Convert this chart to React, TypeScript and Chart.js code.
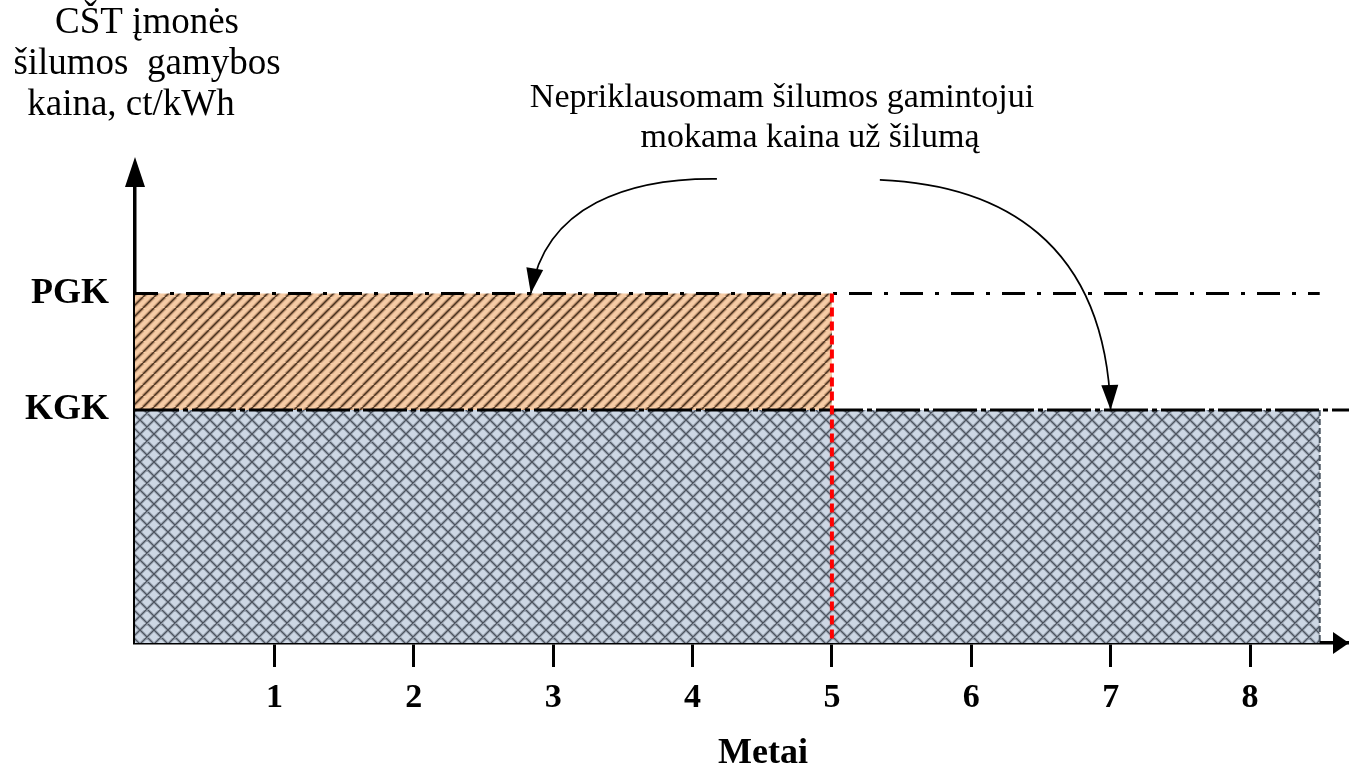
import React, { useEffect, useRef } from 'react';
import { Chart, registerables } from 'chart.js';

Chart.register(...registerables);

// ---- data ----
const yearTicks = [1, 2, 3, 4, 5, 6, 7, 8];
const priceLevels = [2, 3];
const priceLabels = ['KGK', 'PGK'];
const KGK = 2;
const PGK = 3;
const switchYear = 5;
const horizonEnd = 8.5;
const axisEndX = 8.71;
const axisEndY = 3.93;
const yTitleLines = ['CŠT įmonės', 'šilumos  gamybos', 'kaina, ct/kWh'];
const xTitle = 'Metai';
const noteLines = ['Nepriklausomam šilumos gamintojui', 'mokama kaina už šilumą'];
// curved annotation arrows (data units): start, control 1, control 2, tip
const leftArrow = [[4.175, 3.983], [3.551, 3.991], [2.941, 3.76], [2.84, PGK]];
const rightArrow = [[5.344, 3.974], [6.2, 3.931], [6.958, 3.459], [7.0, KGK]];

const SERIF = '"Liberation Serif", "Times New Roman", serif';

function makeHatch(size: number, bg: string, layers: { color: string; width: number }[], cross: boolean) {
  const c = document.createElement('canvas');
  c.width = size;
  c.height = size;
  const g = c.getContext('2d')!;
  g.fillStyle = bg;
  g.fillRect(0, 0, size, size);
  for (const l of layers) {
    g.strokeStyle = l.color;
    g.lineWidth = l.width;
    g.beginPath();
    for (const o of [-size, 0, size]) {
      g.moveTo(o, size);
      g.lineTo(o + size, 0);
      if (cross) {
        g.moveTo(o, 0);
        g.lineTo(o + size, size);
      }
    }
    g.stroke();
  }
  return g.createPattern(c, 'repeat')!;
}

const decorations = {
  id: 'decorations',
  afterDraw(chart: any) {
    const { ctx, chartArea, scales } = chart;
    const xs = scales.x;
    const ys = scales.y;
    ctx.save();
    ctx.fillStyle = '#000';
    ctx.strokeStyle = '#000';

    // y-axis arrow head
    const ax = chartArea.left;
    ctx.beginPath();
    ctx.moveTo(ax, chartArea.top - 28);
    ctx.lineTo(ax - 10, chartArea.top + 2);
    ctx.lineTo(ax + 10, chartArea.top + 2);
    ctx.closePath();
    ctx.fill();

    // x-axis arrow head
    const ay = chartArea.bottom;
    ctx.beginPath();
    ctx.moveTo(chartArea.right, ay);
    ctx.lineTo(chartArea.right - 16, ay - 11);
    ctx.lineTo(chartArea.right - 16, ay + 11);
    ctx.closePath();
    ctx.fill();

    // curved arrows
    const drawCurve = (pts: number[][]) => {
      const p = pts.map(([x, y]) => [xs.getPixelForValue(x), ys.getPixelForValue(y)]);
      ctx.lineWidth = 1.7;
      ctx.beginPath();
      ctx.moveTo(p[0][0], p[0][1]);
      ctx.bezierCurveTo(p[1][0], p[1][1], p[2][0], p[2][1], p[3][0], p[3][1]);
      ctx.stroke();
      const dx = p[3][0] - p[2][0];
      const dy = p[3][1] - p[2][1];
      const len = Math.hypot(dx, dy);
      const ux = dx / len, uy = dy / len;
      const L = 25, W = 8.5;
      const bx = p[3][0] - ux * L, by = p[3][1] - uy * L;
      ctx.beginPath();
      ctx.moveTo(p[3][0], p[3][1]);
      ctx.lineTo(bx - uy * W, by + ux * W);
      ctx.lineTo(bx + uy * W, by - ux * W);
      ctx.closePath();
      ctx.fill();
    };
    drawCurve(leftArrow);
    drawCurve(rightArrow);

    // texts
    ctx.textBaseline = 'alphabetic';
    ctx.textAlign = 'center';
    ctx.font = `34px ${SERIF}`;
    const noteCenters = [782, 810];
    const noteBase = [107, 147];
    noteLines.forEach((t, i) => ctx.fillText(t, noteCenters[i], noteBase[i]));

    ctx.font = `37px ${SERIF}`;
    const tCenters = [147, 147, 131];
    const tBase = [33, 74, 115];
    yTitleLines.forEach((t, i) => ctx.fillText(t, tCenters[i], tBase[i]));

    ctx.font = `bold 36px ${SERIF}`;
    ctx.fillText(xTitle, 763, 763);
    ctx.restore();
  },
};

export default function App() {
  const ref = useRef<HTMLCanvasElement>(null);
  useEffect(() => {
    if (!ref.current) return;
    const orange = makeHatch(
      11,
      '#F6CCA6',
      [
        { color: 'rgba(150,105,70,0.45)', width: 4 },
        { color: 'rgba(60,38,20,0.9)', width: 1.5 },
      ],
      false
    );
    const blue = makeHatch(
      14,
      '#CDD7E4',
      [
        { color: 'rgba(110,120,134,0.5)', width: 3 },
        { color: 'rgba(60,66,76,0.85)', width: 1.2 },
      ],
      true
    );
    const base = { pointRadius: 0, pointHoverRadius: 0, tension: 0, borderCapStyle: 'butt' as const };
    const chart = new Chart(ref.current, {
      type: 'line',
      data: {
        datasets: [
          {
            ...base,
            label: 'switch',
            data: [{ x: switchYear, y: PGK }, { x: switchYear, y: 0 }],
            borderColor: '#FF0000',
            borderWidth: 4,
            borderDash: [9, 5],
            fill: false,
          },
          {
            ...base,
            label: 'PGK',
            data: [{ x: 0, y: PGK }, { x: horizonEnd, y: PGK }],
            borderColor: '#000',
            borderWidth: 3,
            borderDash: [23, 12, 4, 12],
            fill: false,
          },
          {
            ...base,
            label: 'KGK',
            data: [{ x: 0, y: KGK }, { x: axisEndX, y: KGK }],
            borderColor: '#000',
            borderWidth: 3,
            borderDash: [44, 4, 5, 4],
            fill: false,
          },
          {
            ...base,
            label: 'edge',
            data: [{ x: horizonEnd, y: KGK }, { x: horizonEnd, y: 0 }],
            borderColor: '#4a5561',
            borderWidth: 2,
            borderDash: [6, 3],
            fill: false,
          },
          {
            ...base,
            label: 'PGK area',
            data: [{ x: 0, y: PGK }, { x: switchYear, y: PGK }],
            borderColor: 'rgba(0,0,0,0)',
            borderWidth: 0,
            backgroundColor: orange as any,
            fill: 5,
          },
          {
            ...base,
            label: 'PGK base',
            data: [{ x: 0, y: KGK }, { x: switchYear, y: KGK }],
            borderColor: 'rgba(0,0,0,0)',
            borderWidth: 0,
            fill: false,
          },
          {
            ...base,
            label: 'KGK area',
            data: [{ x: 0, y: KGK }, { x: horizonEnd, y: KGK }],
            borderColor: 'rgba(0,0,0,0)',
            borderWidth: 0,
            backgroundColor: blue as any,
            fill: 'origin',
          },
        ],
      },
      options: {
        responsive: false,
        animation: false,
        devicePixelRatio: 1,
        layout: { padding: { top: 185, right: 0, bottom: 0, left: 0 } },
        plugins: { legend: { display: false }, tooltip: { enabled: false }, title: { display: false } },
        scales: {
          x: {
            type: 'linear',
            min: 0,
            max: axisEndX,
            afterBuildTicks: (s: any) => {
              s.ticks = yearTicks.map((v) => ({ value: v }));
            },
            afterFit: (s: any) => {
              s.height = 125;
            },
            ticks: {
              autoSkip: false,
              maxRotation: 0,
              padding: 11,
              color: '#000',
              font: { family: SERIF, size: 34, weight: 'bold' },
              callback: (v: any) => String(yearTicks[yearTicks.indexOf(Number(v))] ?? ''),
            },
            grid: {
              display: true,
              drawOnChartArea: false,
              drawTicks: true,
              tickLength: 24,
              tickWidth: 3,
              tickColor: '#000',
            },
            border: { display: true, color: '#000', width: 3.5 },
          },
          y: {
            type: 'linear',
            min: 0,
            max: axisEndY,
            afterBuildTicks: (s: any) => {
              s.ticks = priceLevels.map((v) => ({ value: v }));
            },
            afterFit: (s: any) => {
              s.width = 135;
            },
            ticks: {
              padding: 26,
              color: '#000',
              font: { family: SERIF, size: 36, weight: 'bold' },
              callback: (v: any) => priceLabels[priceLevels.indexOf(Number(v))] ?? '',
            },
            grid: { display: false, drawTicks: false },
            border: { display: true, color: '#000', width: 3.5 },
          },
        },
      },
      plugins: [decorations],
    } as any);
    return () => chart.destroy();
  }, []);
  return (
    <div style={{ position: 'fixed', left: 0, top: 0, width: 1349, height: 768, background: '#fff' }}>
      <canvas ref={ref} width={1349} height={768} style={{ display: 'block' }} />
    </div>
  );
}
